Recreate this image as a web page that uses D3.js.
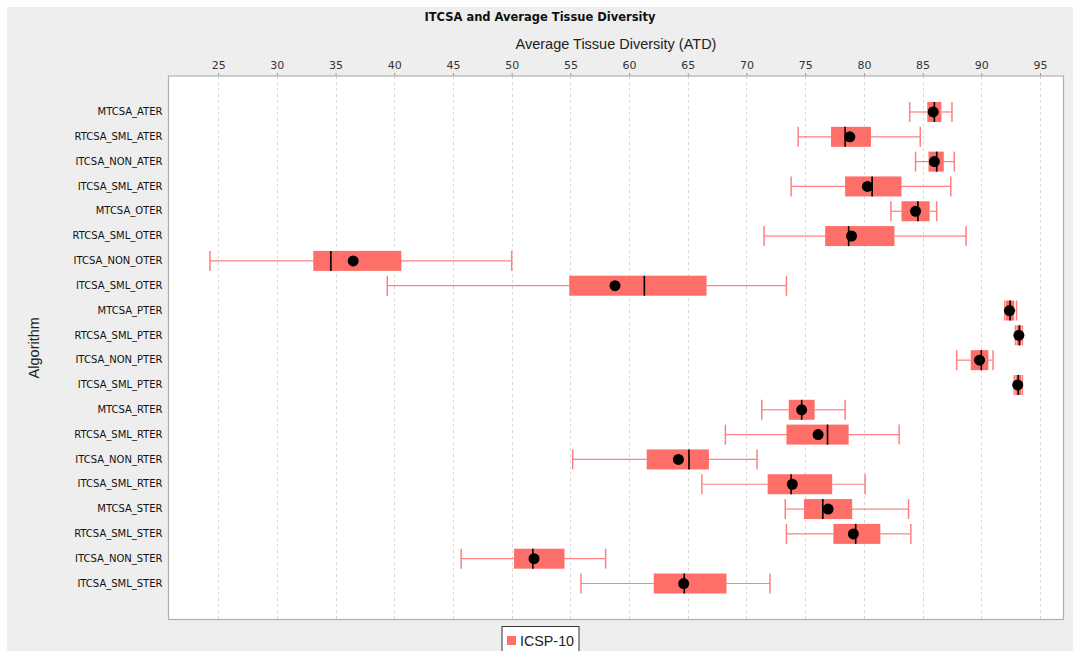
<!DOCTYPE html>
<html><head><meta charset="utf-8">
<script src="https://cdn.jsdelivr.net/npm/d3@7"></script>
<style>
html,body{margin:0;padding:0;background:#fff;}
svg{display:block;}
</style></head>
<body>
<svg id="c" width="1073" height="651"></svg>
<script>
const categories = ["MTCSA_ATER","RTCSA_SML_ATER","ITCSA_NON_ATER","ITCSA_SML_ATER","MTCSA_OTER","RTCSA_SML_OTER","ITCSA_NON_OTER","ITCSA_SML_OTER","MTCSA_PTER","RTCSA_SML_PTER","ITCSA_NON_PTER","ITCSA_SML_PTER","MTCSA_RTER","RTCSA_SML_RTER","ITCSA_NON_RTER","ITCSA_SML_RTER","MTCSA_STER","RTCSA_SML_STER","ITCSA_NON_STER","ITCSA_SML_STER"];
const whiskerLow  = [83.9,74.4,84.4,73.8,82.3,71.5,24.3,39.4,92.0,92.9,87.9,92.8,71.3,68.2,55.2,66.2,73.3,73.4,45.7,55.9];
const q1          = [85.4,77.2,85.5,78.4,83.2,76.7,33.1,54.9,92.1,93.0,89.1,92.9,73.6,73.4,61.5,71.8,74.9,77.4,50.2,62.1];
const median      = [86.0,78.4,86.2,80.7,84.6,78.7,34.6,61.3,92.45,93.25,90.0,93.15,74.7,76.9,65.1,73.8,76.5,79.3,51.8,64.7];
const q3          = [86.6,80.6,86.8,83.2,85.6,82.6,40.6,66.6,92.8,93.4,90.6,93.4,75.8,78.7,66.8,77.3,79.0,81.4,54.5,68.3];
const whiskerHigh = [87.5,84.8,87.7,87.4,86.2,88.7,50.0,73.4,93.0,93.5,91.0,93.5,78.4,83.0,70.9,80.1,83.8,84.0,58.0,72.0];
const mean        = [85.9,78.8,86.0,80.3,84.4,78.95,36.5,58.8,92.4,93.2,89.85,93.1,74.7,76.1,64.2,73.9,76.95,79.1,51.9,64.65];
const xTicks = [25,30,35,40,45,50,55,60,65,70,75,80,85,90,95];
const seriesName = "ICSP-10";

const data = categories.map((c,i)=>({cat:c, lo:whiskerLow[i], q1:q1[i], med:median[i], q3:q3[i], hi:whiskerHigh[i], mean:mean[i]}));

const svg = d3.select("#c");
const W=1073,H=651;
const plot = {left:168.5, right:1063.5, top:76, bottom:619.5};
const boxFill = "#ff6f6a", whiskerCol = "#ff8080";

svg.append("rect").attr("x",7).attr("y",7).attr("width",W-7).attr("height",H-7).attr("fill","#eeeeee");

const x = d3.scaleLinear().domain([20.77,97.0]).range([plot.left,plot.right]);
const y = d3.scaleBand().domain(categories).range([plot.top,plot.bottom]).paddingInner(0).paddingOuter(0.95);

svg.append("rect").attr("x",plot.left).attr("y",plot.top).attr("width",plot.right-plot.left).attr("height",plot.bottom-plot.top).attr("fill","#fff");

svg.append("g").selectAll("line").data(xTicks).join("line")
  .attr("x1",d=>Math.round(x(d))+0.5).attr("x2",d=>Math.round(x(d))+0.5)
  .attr("y1",plot.top).attr("y2",plot.bottom)
  .attr("stroke","#d8d8d8").attr("stroke-width",1).attr("stroke-dasharray","3,3");

const ax = svg.append("g").attr("transform",`translate(0,${plot.top})`)
  .call(d3.axisTop(x).tickValues(xTicks).tickSize(3).tickPadding(4).tickFormat(d3.format("d")));
ax.select(".domain").remove();
ax.selectAll(".tick line").attr("stroke","#999");
ax.selectAll("text").attr("font-family","DejaVu Sans").attr("font-size","11px").attr("fill","#333");

const ay = svg.append("g").attr("transform",`translate(${plot.left},0)`)
  .call(d3.axisLeft(y).tickSize(0).tickPadding(6));
ay.select(".domain").remove();
ay.selectAll("text").attr("font-family","DejaVu Sans").attr("font-size","10px").attr("fill","#111");

const bh = 20;
const g = svg.append("g");
const rows = g.selectAll("g.row").data(data).join("g").attr("class","row")
  .attr("transform",d=>`translate(0,${y(d.cat)+y.bandwidth()/2})`);
rows.append("line").attr("x1",d=>x(d.lo)).attr("x2",d=>x(d.q1)).attr("y1",0).attr("y2",0).attr("stroke",whiskerCol).attr("stroke-width",1.2);
rows.append("line").attr("x1",d=>x(d.q3)).attr("x2",d=>x(d.hi)).attr("y1",0).attr("y2",0).attr("stroke",whiskerCol).attr("stroke-width",1.2);
rows.append("line").attr("x1",d=>x(d.lo)).attr("x2",d=>x(d.lo)).attr("y1",-bh/2).attr("y2",bh/2).attr("stroke",whiskerCol).attr("stroke-width",1.5);
rows.append("line").attr("x1",d=>x(d.hi)).attr("x2",d=>x(d.hi)).attr("y1",-bh/2).attr("y2",bh/2).attr("stroke",whiskerCol).attr("stroke-width",1.5);
rows.append("rect").attr("x",d=>x(d.q1)).attr("width",d=>Math.max(1,x(d.q3)-x(d.q1))).attr("y",-bh/2).attr("height",bh).attr("fill",boxFill);
rows.append("line").attr("x1",d=>x(d.med)).attr("x2",d=>x(d.med)).attr("y1",-bh/2).attr("y2",bh/2).attr("stroke","#000").attr("stroke-width",1.6);
rows.append("circle").attr("cx",d=>x(d.mean)).attr("cy",0).attr("r",5.5).attr("fill","#000");

svg.append("rect").attr("x",plot.left).attr("y",plot.top).attr("width",plot.right-plot.left).attr("height",plot.bottom-plot.top)
  .attr("fill","none").attr("stroke","#b0b0b0").attr("stroke-width",1.2);

svg.append("text").attr("x",540).attr("y",21).attr("text-anchor","middle")
  .attr("font-family","DejaVu Sans").attr("font-weight","bold").attr("font-size","11.5px").attr("fill","#111")
  .text("ITCSA and Average Tissue Diversity");
svg.append("text").attr("x",(plot.left+plot.right)/2).attr("y",49).attr("text-anchor","middle")
  .attr("font-family","Liberation Sans").attr("font-size","14.5px").attr("fill","#222")
  .text("Average Tissue Diversity (ATD)");
svg.append("text").attr("transform",`translate(39,${(plot.top+plot.bottom)/2}) rotate(-90)`).attr("text-anchor","middle")
  .attr("font-family","Liberation Sans").attr("font-size","14.5px").attr("fill","#222")
  .text("Algorithm");

const lg = svg.append("g").attr("transform","translate(502,626.5)");
lg.append("rect").attr("x",0).attr("y",0).attr("width",77).attr("height",30).attr("fill","#fff").attr("stroke","#333").attr("stroke-width",1);
lg.append("rect").attr("x",5).attr("y",9.5).attr("width",9).attr("height",9).attr("fill",boxFill);
lg.append("text").attr("x",18).attr("y",19).attr("font-family","Liberation Sans").attr("font-size","14.3px").attr("fill","#222").text(seriesName);
</script>
</body></html>
